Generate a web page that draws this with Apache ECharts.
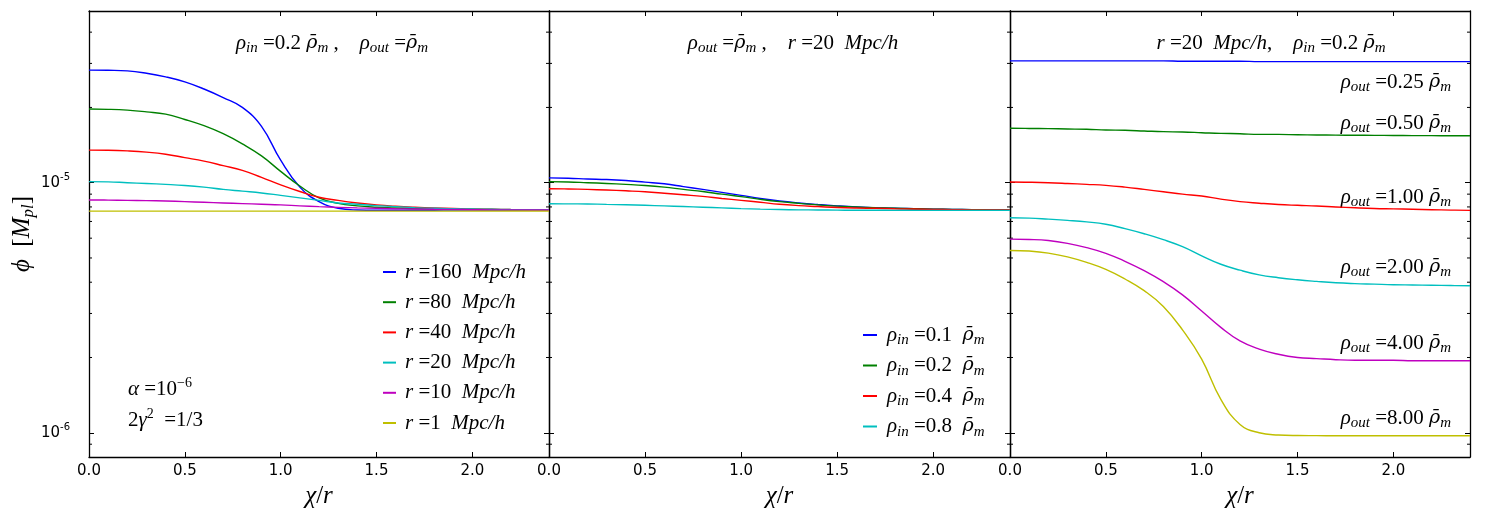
<!DOCTYPE html>
<html>
<head>
<meta charset="utf-8">
<script src="https://cdn.jsdelivr.net/npm/echarts@6/dist/echarts.min.js"></script>
<style>
html, body { margin: 0; padding: 0; background: #fff; }
#main { width: 1500px; height: 525px; }
</style>
</head>
<body>
<div id="main"></div>
<script>
// x grid (chi / r), shared by all three panels
var xs = [0, 0.1, 0.2, 0.3, 0.4, 0.5, 0.6, 0.7, 0.8, 0.9, 1.0, 1.1, 1.2, 1.3, 1.4, 1.5, 1.6, 1.7, 1.8, 1.9, 2.0, 2.1, 2.2, 2.3, 2.4];
var xTicks = [0, 0.5, 1.0, 1.5, 2.0];
var yMinorTicks = [9e-7, 2e-6, 3e-6, 4e-6, 5e-6, 6e-6, 7e-6, 8e-6, 9e-6, 2e-5, 3e-5, 4e-5];
var UNIT = 1e-6; // phi values below are in units of 1e-6 M_pl

var colors = ['#0000ff', '#008000', '#ff0000', '#00bfbf', '#bf00bf', '#bfbf00'];

// panel 1: rho_in = 0.2, rho_out = 1, different radii
var p1Names = ['r=160', 'r=80', 'r=40', 'r=20', 'r=10', 'r=1'];
var p1Labels = ['160', '80', '40', '20', '10', '1'];
var p1_r160 = [28.2, 28.15, 28.0, 27.4, 26.5, 25.3, 23.7, 21.9, 20.0, 16.8, 12.3, 9.6, 8.4, 7.9, 7.78, 7.76, 7.76, 7.76, 7.76, 7.77, 7.77, 7.77, 7.78, 7.78, 7.78];
var p1_r80 = [19.7, 19.65, 19.5, 19.2, 18.8, 17.9, 16.9, 15.7, 14.3, 12.8, 11.1, 9.7, 8.7, 8.27, 8.08, 7.98, 7.92, 7.88, 7.85, 7.83, 7.82, 7.81, 7.8, 7.79, 7.79];
var p1_r40 = [13.5, 13.48, 13.4, 13.25, 13.0, 12.6, 12.2, 11.7, 11.2, 10.5, 9.8, 9.22, 8.75, 8.5, 8.3, 8.15, 8.05, 7.98, 7.93, 7.89, 7.85, 7.83, 7.81, 7.8, 7.8];
var p1_r20 = [10.1, 10.08, 10.0, 9.93, 9.85, 9.75, 9.6, 9.4, 9.25, 9.1, 8.9, 8.7, 8.5, 8.3, 8.2, 8.1, 8.02, 7.95, 7.9, 7.87, 7.85, 7.83, 7.81, 7.8, 7.8];
var p1_r10 = [8.53, 8.52, 8.5, 8.48, 8.45, 8.4, 8.35, 8.3, 8.25, 8.2, 8.15, 8.08, 8.02, 7.97, 7.93, 7.9, 7.87, 7.85, 7.83, 7.82, 7.8, 7.79, 7.79, 7.78, 7.78];
var p1_r1 = [7.7, 7.7, 7.7, 7.7, 7.7, 7.7, 7.7, 7.7, 7.7, 7.7, 7.7, 7.7, 7.7, 7.7, 7.7, 7.7, 7.7, 7.7, 7.7, 7.7, 7.7, 7.7, 7.7, 7.7, 7.7];

// panel 2: rho_out = 1, r = 20, different rho_in
var p2Names = ['in=0.1', 'in=0.2', 'in=0.4', 'in=0.8'];
var p2Labels = ['0.1', '0.2', '0.4', '0.8'];
var p2_in01 = [10.45, 10.42, 10.35, 10.3, 10.2, 10.05, 9.9, 9.65, 9.4, 9.15, 8.9, 8.65, 8.45, 8.3, 8.18, 8.08, 8.0, 7.95, 7.9, 7.87, 7.84, 7.82, 7.8, 7.79, 7.78];
var p2_in02 = [10.1, 10.07, 10.0, 9.93, 9.85, 9.75, 9.6, 9.4, 9.22, 9.0, 8.8, 8.58, 8.4, 8.27, 8.15, 8.06, 8.0, 7.94, 7.9, 7.87, 7.84, 7.82, 7.8, 7.79, 7.78];
var p2_in04 = [9.46, 9.44, 9.4, 9.35, 9.28, 9.2, 9.08, 8.95, 8.82, 8.65, 8.5, 8.35, 8.2, 8.1, 8.03, 7.96, 7.92, 7.9, 7.87, 7.85, 7.82, 7.8, 7.79, 7.78, 7.78];
var p2_in08 = [8.24, 8.23, 8.22, 8.19, 8.16, 8.12, 8.08, 8.03, 7.98, 7.93, 7.88, 7.84, 7.81, 7.79, 7.78, 7.77, 7.76, 7.76, 7.75, 7.75, 7.75, 7.75, 7.75, 7.75, 7.75];

// panel 3: r = 20, rho_in = 0.2, different rho_out
var p3Names = ['out=0.25', 'out=0.50', 'out=1.00', 'out=2.00', 'out=4.00', 'out=8.00'];
var p3Labels = ['0.25', '0.50', '1.00', '2.00', '4.00', '8.00'];
var p3_out025 = [30.7, 30.7, 30.7, 30.7, 30.7, 30.7, 30.7, 30.7, 30.7, 30.6, 30.6, 30.6, 30.6, 30.5, 30.5, 30.5, 30.5, 30.5, 30.5, 30.5, 30.5, 30.5, 30.5, 30.5, 30.5];
var p3_out050 = [16.5, 16.48, 16.45, 16.4, 16.35, 16.25, 16.2, 16.1, 16.0, 15.95, 15.85, 15.75, 15.7, 15.6, 15.6, 15.55, 15.52, 15.5, 15.48, 15.46, 15.45, 15.43, 15.42, 15.41, 15.4];
var p3_out100 = [10.06, 10.04, 10.0, 9.93, 9.85, 9.76, 9.6, 9.4, 9.2, 9.0, 8.85, 8.6, 8.4, 8.28, 8.18, 8.12, 8.07, 8.0, 7.94, 7.89, 7.86, 7.83, 7.8, 7.77, 7.75];
var p3_out200 = [7.24, 7.22, 7.15, 7.07, 6.97, 6.82, 6.55, 6.25, 5.92, 5.55, 5.1, 4.72, 4.47, 4.28, 4.17, 4.09, 4.03, 3.98, 3.95, 3.93, 3.91, 3.9, 3.89, 3.88, 3.87];
var p3_out400 = [5.95, 5.93, 5.87, 5.72, 5.5, 5.22, 4.85, 4.45, 4.02, 3.56, 3.07, 2.64, 2.33, 2.16, 2.06, 2.0, 1.98, 1.96, 1.95, 1.95, 1.95, 1.94, 1.94, 1.94, 1.94];
var p3_out800 = [5.36, 5.33, 5.23, 5.05, 4.8, 4.5, 4.12, 3.7, 3.2, 2.58, 1.97, 1.36, 1.08, 1.0, 0.98, 0.975, 0.974, 0.973, 0.973, 0.973, 0.973, 0.973, 0.973, 0.973, 0.973];

var panels = [
    { names: p1Names, values: [p1_r160, p1_r80, p1_r40, p1_r20, p1_r10, p1_r1] },
    { names: p2Names, values: [p2_in01, p2_in02, p2_in04, p2_in08] },
    { names: p3Names, values: [p3_out025, p3_out050, p3_out100, p3_out200, p3_out400, p3_out800] }
];

var SERIF = 'Liberation Serif';
var rich = {
    n: { fontFamily: SERIF, fontSize: 21, lineHeight: 26, color: '#000' },
    i: { fontFamily: SERIF, fontSize: 21, lineHeight: 26, fontStyle: 'italic', color: '#000' },
    rb: { fontFamily: 'DejaVu Serif', fontSize: 19, lineHeight: 26, fontStyle: 'italic', color: '#000' },
    sb: { fontFamily: SERIF, fontSize: 15, lineHeight: 15, fontStyle: 'italic', verticalAlign: 'bottom', color: '#000' },
    sp: { fontFamily: SERIF, fontSize: 14, lineHeight: 14, verticalAlign: 'top', color: '#000' },
    big: { fontFamily: SERIF, fontSize: 25, lineHeight: 30, fontStyle: 'italic', color: '#000' },
    bign: { fontFamily: SERIF, fontSize: 25, lineHeight: 30, color: '#000' },
    bigsb: { fontFamily: SERIF, fontSize: 17, lineHeight: 17, fontStyle: 'italic', verticalAlign: 'bottom', color: '#000' }
};
var RHOBAR = '{rb|ρ\u0304}';

var gridLeft = [89, 549, 1010];
var gridWidth = [460, 461, 460];
var Y_MIN = 8e-7, Y_MAX = 4.86e-5;

var myChart = echarts.init(document.getElementById('main'));

var grids = [], xAxes = [], yAxes = [], series = [];
var frame = { show: true, onZero: false, lineStyle: { color: '#000', width: 1.3 } };
var tick = { show: true, inside: true, length: 5, lineStyle: { color: '#000', width: 1 } };

for (var g = 0; g < 3; g++) {
    grids.push({ left: gridLeft[g], width: gridWidth[g], top: 11, height: 446 });
    xAxes.push({
        type: 'value', gridIndex: g, position: 'bottom', min: 0, max: 2.4, interval: 0.5,
        axisLine: frame, axisTick: tick, splitLine: { show: false },
        axisLabel: {
            color: '#000', fontFamily: 'DejaVu Sans', fontSize: 15, margin: 7, showMaxLabel: false,
            formatter: function (v) { return xTicks.indexOf(v) >= 0 ? v.toFixed(1) : ''; }
        },
        name: '{big|χ}{bign|/}{big|r}', nameLocation: 'middle', nameGap: 24,
        nameTextStyle: { rich: rich }
    });
    xAxes.push({
        type: 'value', gridIndex: g, position: 'top', min: 0, max: 2.4, interval: 0.5,
        axisLine: frame, axisTick: tick, splitLine: { show: false }, axisLabel: { show: false }
    });
    yAxes.push({
        type: 'log', logBase: 10, gridIndex: g, position: 'left', min: Y_MIN, max: Y_MAX,
        axisLine: frame, axisTick: tick, splitLine: { show: false }, minorTick: { show: false },
        axisLabel: {
            show: g === 0, margin: 19, showMinLabel: false, showMaxLabel: false,
            formatter: function (v) {
                var e = Math.log10(v);
                if (Math.abs(e - Math.round(e)) > 0.01) return '';
                return '{b|10}{s|' + Math.round(e) + '}';
            },
            rich: {
                b: { fontFamily: 'DejaVu Sans', fontSize: 15, lineHeight: 20, color: '#000' },
                s: { fontFamily: 'DejaVu Sans', fontSize: 10, lineHeight: 12, verticalAlign: 'top', color: '#000' }
            }
        },
        name: g === 0 ? '{big|ϕ}{bign|  [}{big|M}{bigsb|pl}{bign|]}' : '',
        nameLocation: 'middle', nameGap: 50, nameRotate: 90,
        nameTextStyle: { rich: rich }
    });
    yAxes.push({
        type: 'log', logBase: 10, gridIndex: g, position: 'right', min: Y_MIN, max: Y_MAX,
        axisLine: frame, axisTick: tick, splitLine: { show: false }, axisLabel: { show: false }
    });
    var p = panels[g];
    for (var k = 0; k < p.names.length; k++) {
        var vals = p.values[k];
        series.push({
            type: 'line', name: p.names[k], xAxisIndex: 2 * g, yAxisIndex: 2 * g,
            data: xs.map(function (x, j) { return [x, vals[j] * UNIT]; }),
            showSymbol: false, smooth: 0.45, animation: false,
            lineStyle: { color: colors[k], width: 1.4 },
            itemStyle: { color: colors[k] }
        });
    }
}

var legendText = { fontFamily: SERIF, fontSize: 21, lineHeight: 26, rich: rich };

var option = {
    animation: false,
    backgroundColor: '#fff',
    grid: grids,
    xAxis: xAxes,
    yAxis: yAxes,
    series: series,
    legend: [
        {
            data: p1Names, orient: 'vertical', left: 383, top: 259, padding: 0,
            icon: 'rect', itemWidth: 13, itemHeight: 2, itemGap: 4.2, selectedMode: false,
            textStyle: Object.assign({ padding: [0, 0, 0, 4] }, legendText),
            formatter: function (name) {
                return '{i|r}{n| =' + p1Labels[p1Names.indexOf(name)] + '  }{i|Mpc/h}';
            }
        },
        {
            data: p2Names, orient: 'vertical', left: 863, top: 322, padding: 0,
            icon: 'rect', itemWidth: 14, itemHeight: 2, itemGap: 4.5, selectedMode: false,
            textStyle: Object.assign({ padding: [0, 0, 0, 5] }, legendText),
            formatter: function (name) {
                return '{i|ρ}{sb|in}{n| =' + p2Labels[p2Names.indexOf(name)] + '  }' + RHOBAR + '{sb|m}';
            }
        }
    ]
};
myChart.setOption(option);

// annotation texts
function txt(x, y, text, align) {
    return {
        type: 'text', x: x, y: y, silent: true,
        style: { text: text, rich: rich, textAlign: align || 'left', textVerticalAlign: 'middle' }
    };
}
var elements = [
    txt(332, 43, '{i|ρ}{sb|in}{n| =0.2 }' + RHOBAR + '{sb|m}{n| ,    }{i|ρ}{sb|out}{n| =}' + RHOBAR + '{sb|m}', 'center'),
    txt(793, 43, '{i|ρ}{sb|out}{n| =}' + RHOBAR + '{sb|m}{n| ,    }{i|r}{n| =20  }{i|Mpc/h}', 'center'),
    txt(1271, 43, '{i|r}{n| =20  }{i|Mpc/h}{n|,    }{i|ρ}{sb|in}{n| =0.2 }' + RHOBAR + '{sb|m}', 'center'),
    txt(128, 389, '{i|α}{n| =10}{sp|−6}'),
    txt(128, 420, '{n|2}{i|γ}{sp|2}{n|  =1/3}')
];
var p3LabelY = [82, 123, 197, 267, 343, 418];
for (var m = 0; m < p3Labels.length; m++) {
    elements.push(txt(1451, p3LabelY[m], '{i|ρ}{sb|out}{n| =' + p3Labels[m] + ' }' + RHOBAR + '{sb|m}', 'right'));
}

// log minor ticks on both sides of every panel
for (var g2 = 0; g2 < 3; g2++) {
    var xl = myChart.convertToPixel({ xAxisIndex: 2 * g2 }, 0);
    var xr = myChart.convertToPixel({ xAxisIndex: 2 * g2 }, 2.4);
    yMinorTicks.forEach(function (v) {
        var py = myChart.convertToPixel({ yAxisIndex: 2 * g2 }, v);
        elements.push({ type: 'line', silent: true, shape: { x1: xl, y1: py, x2: xl + 3, y2: py }, style: { stroke: '#000', lineWidth: 1 } });
        elements.push({ type: 'line', silent: true, shape: { x1: xr - 3, y1: py, x2: xr, y2: py }, style: { stroke: '#000', lineWidth: 1 } });
    });
}
myChart.setOption({ graphic: elements });
</script>
</body>
</html>
